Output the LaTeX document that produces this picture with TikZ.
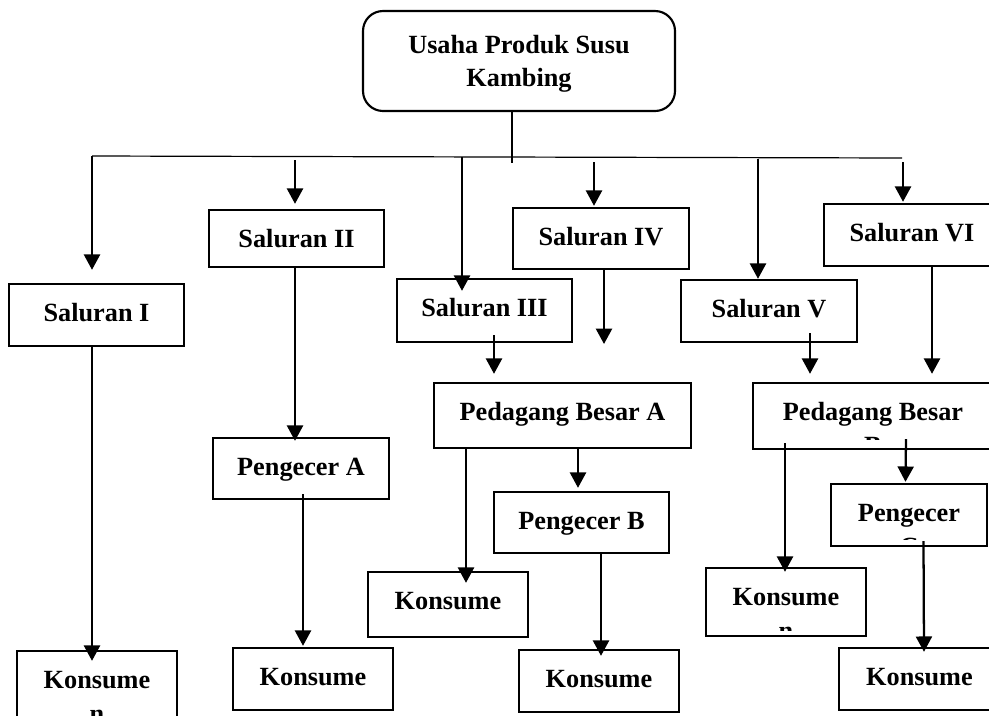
\documentclass[tikz,border=0pt]{standalone}
\usepackage{fontspec}
\setmainfont{Liberation Serif}
\usetikzlibrary{arrows.meta,fit,calc}
\begin{document}
\begin{tikzpicture}[x=0.75pt,y=-0.75pt,
  box/.style={draw, line width=1.8pt, inner sep=0pt},
  topbox/.style={draw, line width=1.6pt, inner sep=0pt, rounded corners=15pt},
  lab/.style={anchor=base, inner sep=0pt, draw=none, fill=none,
    font=\fontsize{19.7}{24}\selectfont\bfseries},
  txt/.style n args={3}{path picture={
     \clip (path picture bounding box.north west) rectangle ([yshift=-#3]path picture bounding box.north east);
     \node[lab] at ([yshift=-27.75pt]path picture bounding box.north) {#1};
     \node[lab] at ([yshift=-53.25pt]path picture bounding box.north) {#2};}},
  toptxt/.style 2 args={path picture={
     \node[lab] at ([yshift=-31.5pt]path picture bounding box.north) {#1};
     \node[lab] at ([yshift=-56.25pt]path picture bounding box.north) {#2};}},
  arr/.style={line width=1.7pt, -{Triangle[width=12pt,length=11.5pt]}},
  thinline/.style={line width=0.9pt}
]
\useasboundingbox (0,0) rectangle (989,715);
\clip (0,0) rectangle (989,715);

% top
\node[topbox, fit={(363,11) (675,111)}, toptxt={Usaha Produk Susu}{Kambing}] (top) {};

% channels
\node[box, fit={(9,284) (184,346)}, txt={Saluran I}{}{200pt}] (s1) {};
\node[box, fit={(209,210) (384,267)}, txt={Saluran II}{}{200pt}] (s2) {};
\node[box, fit={(397,279) (572,342)}, txt={Saluran III}{}{200pt}] (s3) {};
\node[box, fit={(513,208) (689,269)}, txt={Saluran IV}{}{200pt}] (s4) {};
\node[box, fit={(681,280) (857,342)}, txt={Saluran V}{}{200pt}] (s5) {};
\node[box, fit={(824,204) (1000,266)}, txt={Saluran VI}{}{200pt}] (s6) {};

% wholesalers / retailers
\node[box, fit={(434,383) (691,448)}, txt={Pedagang Besar A}{}{200pt}] (pbA) {};
\node[box, fit={(753,383) (993,449)}, txt={Pedagang Besar}{B}{42pt}] (pbB) {};
\node[box, fit={(213,438) (389,499)}, txt={Pengecer A}{}{200pt}] (pA) {};
\node[box, fit={(494,492) (669,553)}, txt={Pengecer B}{}{200pt}] (pB) {};
\node[box, fit={(831,484) (987,546)}, txt={Pengecer}{C}{41.5pt}] (pC) {};

% consumers
\node[box, fit={(17,651) (177,760)}, txt={Konsume}{n}{200pt}] (k1) {};
\node[box, fit={(233,648) (393,710)}, txt={Konsume}{}{200pt}] (k2) {};
\node[box, fit={(368,572) (528,637)}, txt={Konsume}{}{200pt}] (k3) {};
\node[box, fit={(519,650) (679,712)}, txt={Konsume}{}{200pt}] (k4) {};
\node[box, fit={(706,568) (866,636)}, txt={Konsume}{n}{46.5pt}] (k5) {};
\node[box, fit={(839,648) (1000,710)}, txt={Konsume}{}{200pt}] (k6) {};

% bus
\coordinate (busL) at (92,156);
\coordinate (busR) at (902,158);
\coordinate (busM) at (512,163);
\coordinate (c4end) at (604,344);
\draw[thinline] (top.south -| busM) -- (busM);
\draw[thinline] (busL) -- (busR);

% arrows from bus
\draw[arr] (busL) -- ($(s1.north)+(-4.5,-13)$);
\draw[arr] ($(s2.north |- busL)+(-1.5,4)$) -- ($(s2.north)+(-1.5,-5)$);
\draw[arr] ($(s3.north |- busL)+(-22.5,1)$) -- ($(s3.north)+(-22.5,13)$);
\draw[arr] ($(s4.north |- busL)+(-7,6)$) -- ($(s4.north)+(-7,-1)$);
\draw[arr] ($(s5.north |- busL)+(-11,3)$) -- ($(s5.north)+(-11,0)$);
\draw[arr] ($(s6.north |- busR)+(-9,4)$) -- ($(s6.north)+(-9,-1)$);

% lower arrows
\draw[arr] ($(s4.south)+(3,0)$) -- (c4end);
\draw[arr] ($(s3.south)+(9.5,-8)$) -- ($(pbA.north)+(-68.5,-8)$);
\draw[arr] ($(s5.south)+(41,-10)$) -- ($(pbB.north)+(-63,-8)$);
\draw[arr] ($(s6.south)+(20,0)$) -- ($(pbB.north)+(59,-8)$);
\draw[arr] ($(s2.south)+(-1.5,0)$) -- ($(pA.north)+(-6,4)$);
\draw[arr] ($(pA.south)+(2,-6)$) -- ($(k2.north)+(-10,-1)$);
\draw[arr] ($(pbA.south)+(15.5,0)$) -- ($(pB.north)+(-3.5,-3)$);
\draw[arr] ($(pbA.south)+(-96.5,0)$) -- ($(k3.north)+(18,12)$);
\draw[arr] ($(pB.south)+(19.5,0)$) -- ($(k4.north)+(2,7)$);
\draw[arr] ($(s1.south)+(-4.5,0)$) -- ($(k1.north)+(-5,11)$);
\draw[arr] ($(pbB.south)+(-88,-7)$) -- ($(k5.north)+(-1,5)$);
\draw[arr] ($(pbB.south)+(33,-11)$) -- ($(pC.north)+(-3.5,-1)$);
\draw[arr] ($(pC.south)+(14.5,-6)$) -- ($(k6.north)+(4.5,5)$);
\end{tikzpicture}
\end{document}
